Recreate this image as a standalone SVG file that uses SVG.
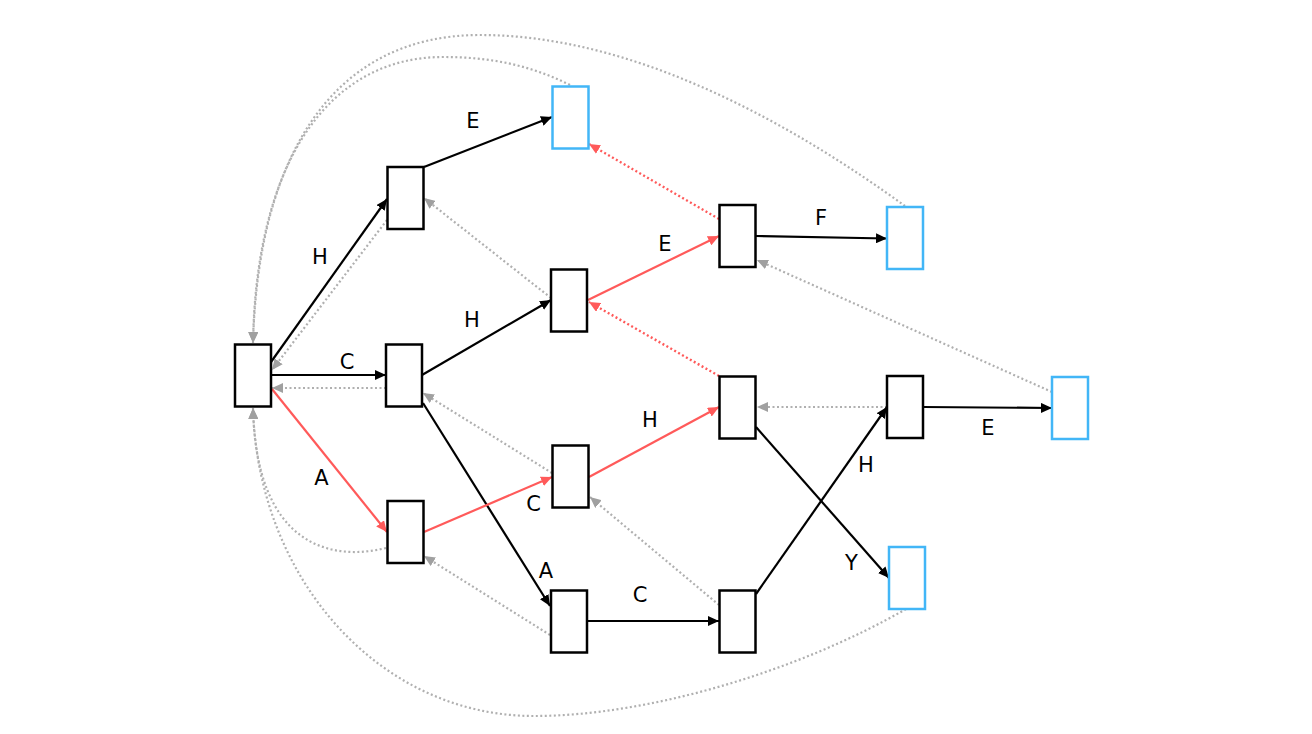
<svg xmlns="http://www.w3.org/2000/svg" width="1312" height="734" viewBox="0 0 1312 734">
<style>
.node{fill:#fff;stroke:#000;stroke-width:2.5}
.leaf{fill:#fff;stroke:#42b6f7;stroke-width:2.5}
.e{fill:none;stroke:#000;stroke-width:2.2;marker-end:url(#ab)}
.r{fill:none;stroke:#ff5a5a;stroke-width:2.2;marker-end:url(#ar)}
.rd{fill:none;stroke:#ff5a5a;stroke-width:2.4;stroke-dasharray:2 2.5;marker-end:url(#ar)}
.g{fill:none;stroke:#b0b0b0;stroke-width:2.2;stroke-dasharray:2 2.5;marker-end:url(#ag)}
.lbl{font-family:"DejaVu Sans",sans-serif;font-size:21px;fill:#000;text-anchor:middle}
</style>
<defs>
<marker id="ab" markerUnits="userSpaceOnUse" markerWidth="11" markerHeight="10" refX="11" refY="5" orient="auto"><path d="M0,0 L11,5 L0,10 z" fill="#000"/></marker>
<marker id="ar" markerUnits="userSpaceOnUse" markerWidth="11" markerHeight="10" refX="11" refY="5" orient="auto"><path d="M0,0 L11,5 L0,10 z" fill="#ff5a5a"/></marker>
<marker id="ag" markerUnits="userSpaceOnUse" markerWidth="11" markerHeight="10" refX="11" refY="5" orient="auto"><path d="M0,0 L11,5 L0,10 z" fill="#a0a0a0"/></marker>
</defs>
<rect width="1312" height="734" fill="#fff"/>
<g id="connectors">
<path class="g" d="M905,206 C800,130 640,35 480,35 C330,35 258,160 253,343"/>
<path class="g" d="M570,85 C530,65 490,57 443,57 C330,57 256,160 253,343"/>
<path class="g" d="M906,609 C800,670 650,716 534,716 C380,716 258,580 253,408"/>
<path class="g" d="M386,548 C330,562 256,545 253,408"/>
<path class="g" d="M387,220 L272,370"/>
<path class="g" d="M386,388 L272,388"/>
<path class="g" d="M551,298 L424,198"/>
<path class="g" d="M552,473 L423,393"/>
<path class="g" d="M550,635 L424,556"/>
<path class="g" d="M719,605 L590,497"/>
<path class="g" d="M887,407 L757,407"/>
<path class="g" d="M1052,392 L757,260"/>
<path class="rd" d="M719,219 L589,144"/>
<path class="rd" d="M719,376 L589,302"/>
<path class="e" d="M271,362 L387,199"/>
<path class="e" d="M271,375 L386,375"/>
<path class="r" d="M272,389 L387,532"/>
<path class="e" d="M424,167 L552,117"/>
<path class="e" d="M422,375 L551,300"/>
<path class="e" d="M423,403 L550,606"/>
<path class="r" d="M424,532 L552,477"/>
<path class="r" d="M588,300 L719,236"/>
<path class="e" d="M756,236 L887,238.5"/>
<path class="r" d="M589,477 L719,407"/>
<path class="e" d="M588,621 L719,621"/>
<path class="e" d="M756,594 L887,407"/>
<path class="e" d="M756,427 L889,578"/>
<path class="e" d="M923,407 L1052,408"/>
<text class="lbl" x="320" y="264">H</text>
<text class="lbl" x="347" y="368.5">C</text>
<text class="lbl" x="321.5" y="484.5">A</text>
<text class="lbl" x="473" y="127.5">E</text>
<text class="lbl" x="472" y="327">H</text>
<text class="lbl" x="546" y="577.5">A</text>
<text class="lbl" x="533.5" y="511">C</text>
<text class="lbl" x="665" y="251">E</text>
<text class="lbl" x="821" y="225">F</text>
<text class="lbl" x="650" y="427">H</text>
<text class="lbl" x="640" y="601.5">C</text>
<text class="lbl" x="866" y="472">H</text>
<text class="lbl" x="851.5" y="569.5">Y</text>
<text class="lbl" x="988" y="434.5">E</text>
</g>
<g id="n0"><rect class="node" x="235" y="344.5" width="36" height="62"/></g>
<g id="n1"><rect class="node" x="387.5" y="167" width="36" height="62"/></g>
<g id="n2"><rect class="node" x="386" y="344.5" width="36" height="62"/></g>
<g id="n3"><rect class="node" x="387.5" y="501" width="36" height="62"/></g>
<g id="n4"><rect class="leaf" x="552.5" y="86.5" width="36" height="62"/></g>
<g id="n5"><rect class="node" x="551" y="269.5" width="36" height="62"/></g>
<g id="n6"><rect class="node" x="552.5" y="445.5" width="36" height="62"/></g>
<g id="n7"><rect class="node" x="551" y="590.5" width="36" height="62"/></g>
<g id="n8"><rect class="node" x="719.5" y="205" width="36" height="62"/></g>
<g id="n9"><rect class="node" x="719.5" y="376.5" width="36" height="62"/></g>
<g id="n10"><rect class="node" x="719.5" y="590.5" width="36" height="62"/></g>
<g id="n11"><rect class="leaf" x="887" y="207" width="36" height="62"/></g>
<g id="n12"><rect class="node" x="887" y="376" width="36" height="62"/></g>
<g id="n13"><rect class="leaf" x="1052" y="377" width="36" height="62"/></g>
<g id="n14"><rect class="leaf" x="889" y="547" width="36" height="62"/></g>
</svg>
